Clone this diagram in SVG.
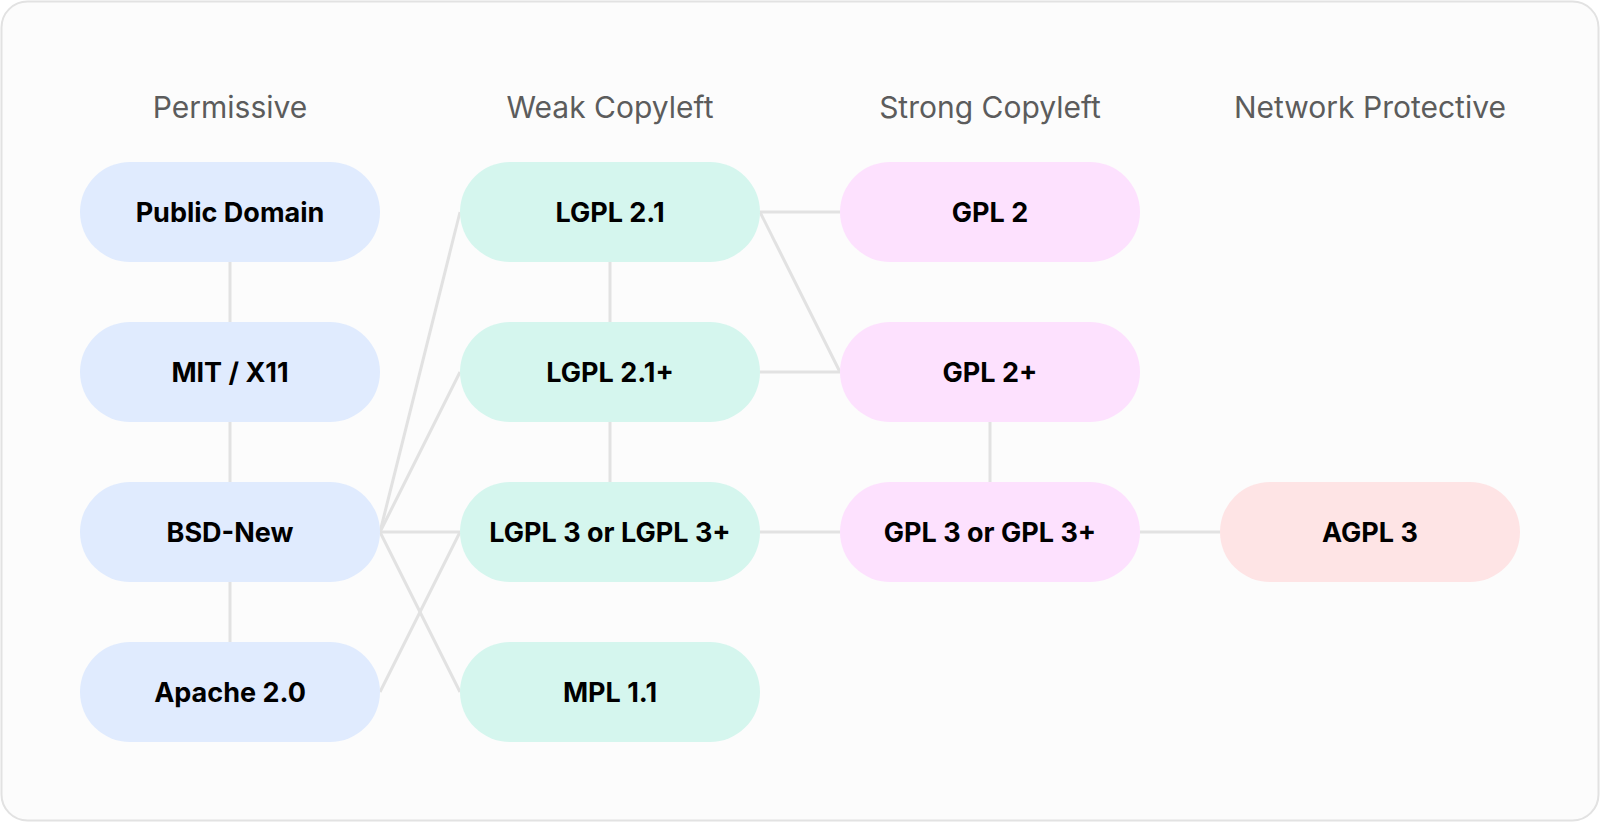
<svg xmlns="http://www.w3.org/2000/svg" width="1600" height="822" viewBox="0 0 1600 822">
<style>
.hdr{font-family:Inter,"Liberation Sans",sans-serif;font-size:30px;fill:#5c5c5c;text-anchor:middle}
.lbl{font-family:Inter,"Liberation Sans",sans-serif;font-size:27px;font-weight:700;fill:#000;text-anchor:middle}
.perm{fill:#e0ebfe}
.weak{fill:#d5f6ee}
.strong{fill:#fde1fe}
.net{fill:#fee4e5}
.edge{stroke:#e2e2e2;stroke-width:3;fill:none}
</style>
<rect x="1.5" y="1.5" width="1597" height="819" rx="26" fill="#fcfcfc" stroke="#e2e2e2" stroke-width="2"/>
<g id="headers">
<text class="hdr" x="230" y="118">Permissive</text>
<text class="hdr" x="610" y="118">Weak Copyleft</text>
<text class="hdr" x="990" y="118">Strong Copyleft</text>
<text class="hdr" x="1370" y="118">Network Protective</text>
</g>
<g id="connectors" class="edge">
<line x1="230" y1="262" x2="230" y2="322"/>
<line x1="230" y1="422" x2="230" y2="482"/>
<line x1="230" y1="582" x2="230" y2="642"/>
<line x1="380" y1="532" x2="460" y2="212"/>
<line x1="380" y1="532" x2="460" y2="372"/>
<line x1="380" y1="532" x2="460" y2="532"/>
<line x1="380" y1="532" x2="460" y2="692"/>
<line x1="380" y1="692" x2="460" y2="532"/>
<line x1="610" y1="262" x2="610" y2="322"/>
<line x1="610" y1="422" x2="610" y2="482"/>
<line x1="760" y1="212" x2="840" y2="212"/>
<line x1="760" y1="212" x2="840" y2="372"/>
<line x1="760" y1="372" x2="840" y2="372"/>
<line x1="760" y1="532" x2="840" y2="532"/>
<line x1="990" y1="422" x2="990" y2="482"/>
<line x1="1140" y1="532" x2="1220" y2="532"/>
</g>
<g id="public-domain"><rect class="perm" x="80" y="162" width="300" height="100" rx="50"/><text class="lbl" x="230" y="222">Public Domain</text></g>
<g id="mit-x11"><rect class="perm" x="80" y="322" width="300" height="100" rx="50"/><text class="lbl" x="230" y="382">MIT / X11</text></g>
<g id="bsd-new"><rect class="perm" x="80" y="482" width="300" height="100" rx="50"/><text class="lbl" x="230" y="542">BSD-New</text></g>
<g id="apache-2"><rect class="perm" x="80" y="642" width="300" height="100" rx="50"/><text class="lbl" x="230" y="702">Apache 2.0</text></g>
<g id="lgpl-21"><rect class="weak" x="460" y="162" width="300" height="100" rx="50"/><text class="lbl" x="610" y="222">LGPL 2.1</text></g>
<g id="lgpl-21plus"><rect class="weak" x="460" y="322" width="300" height="100" rx="50"/><text class="lbl" x="610" y="382">LGPL 2.1+</text></g>
<g id="lgpl-3"><rect class="weak" x="460" y="482" width="300" height="100" rx="50"/><text class="lbl" x="610" y="542">LGPL 3 or LGPL 3+</text></g>
<g id="mpl-11"><rect class="weak" x="460" y="642" width="300" height="100" rx="50"/><text class="lbl" x="610" y="702">MPL 1.1</text></g>
<g id="gpl-2"><rect class="strong" x="840" y="162" width="300" height="100" rx="50"/><text class="lbl" x="990" y="222">GPL 2</text></g>
<g id="gpl-2plus"><rect class="strong" x="840" y="322" width="300" height="100" rx="50"/><text class="lbl" x="990" y="382">GPL 2+</text></g>
<g id="gpl-3"><rect class="strong" x="840" y="482" width="300" height="100" rx="50"/><text class="lbl" x="990" y="542">GPL 3 or GPL 3+</text></g>
<g id="agpl-3"><rect class="net" x="1220" y="482" width="300" height="100" rx="50"/><text class="lbl" x="1370" y="542">AGPL 3</text></g>
</svg>
